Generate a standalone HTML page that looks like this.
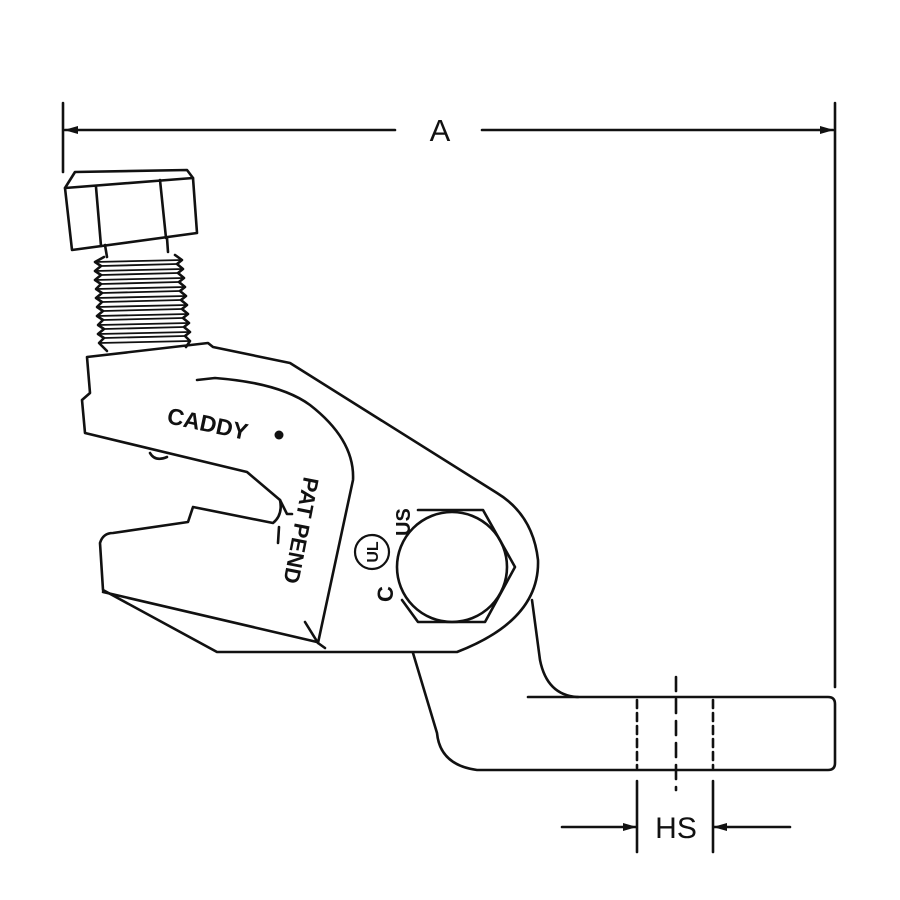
<!DOCTYPE html>
<html><head><style>html,body{margin:0;padding:0;background:#fff}svg{display:block}</style></head>
<body>
<svg width="900" height="900" viewBox="0 0 900 900" xmlns="http://www.w3.org/2000/svg">
<defs>
<marker id="ar" markerWidth="14" markerHeight="8" refX="13" refY="4" orient="auto" markerUnits="userSpaceOnUse">
<path d="M0,0 L14,4 L0,8 Z" fill="#111"/></marker>
</defs>
<g fill="none" stroke="#111" stroke-width="2.6" stroke-linejoin="round" stroke-linecap="round">
<line x1="63" y1="103" x2="63" y2="172"/>
<line x1="835" y1="103" x2="835" y2="687"/>
<line x1="395" y1="130" x2="65" y2="130" marker-end="url(#ar)"/>
<line x1="482" y1="130" x2="833" y2="130" marker-end="url(#ar)"/>
<path d="M65,188 L75,172 L187,170 L193,178 L197,233 L72,250 Z"/>
<line x1="65" y1="188" x2="193" y2="178"/>
<line x1="96" y1="187" x2="101" y2="246"/>
<line x1="160" y1="180" x2="166" y2="238"/>
<path d="M105,245 L107,257 M167,238 L168,252"/>
<path d="M104,257 L95,262 L101,266 L95,271 L101,275 L95,280 L101,284 L96,289 L102,293 L96,298 L102,302 L97,307 L103,311 L97,316 L103,320 L98,325 L104,329 L98,334 L104,338 L99,343 L107,351"/>
<path d="M175,255 L182,260 L177,264 L183,269 L178,273 L184,278 L179,282 L185,287 L180,291 L186,296 L181,300 L187,305 L182,309 L188,314 L183,318 L189,323 L184,327 L190,332 L185,336 L190,341 L186,347"/>
<path d="M95,262 L182,260 M101,266 L177,264 M95,271 L183,269 M101,275 L178,273 M95,280 L184,278 M101,284 L179,282 M96,289 L185,287 M102,293 L180,291 M96,298 L186,296 M102,302 L181,300 M97,307 L187,305 M103,311 L182,309 M97,316 L188,314 M103,320 L183,318 M98,325 L189,323 M104,329 L184,327 M98,334 L190,332 M104,338 L185,336 M99,343 L190,341" stroke-width="1.8"/>
<path d="M87,357 L208,343 L213,347 L290,363 L497,493 Q533,515 538,560 Q540,620 457,652 L217,652 L103,590 L100,543 Q103,533 113,533 L188,522 L193,507 L273,523 Q283,515 280,500 L247,472 L85,433 L82,400 L90,393 Z"/>
<path d="M103,592 L317,642"/>
<path d="M150,453 Q155,462 167,457"/>
<path d="M197,380 L215,378 Q280,383 310,405 Q355,440 353,480 L318,643"/>
<path d="M305,622 L318,643 L325,648"/>
<path d="M280,500 L287,514 L292,514 M279,527 L278,543"/>
<path d="M418,510 L483,510 L515,567 L485,622 L418,622 L402,600"/>
<circle cx="452" cy="567" r="55"/>
<circle cx="372" cy="552" r="17" stroke-width="2.2"/>
<path d="M532,600 L540,660 Q547,695 577,697 L828,697 Q835,697 835,704 L835,763 Q835,770 828,770 L477,770 Q440,765 437,733 L413,653"/>
<line x1="528" y1="697" x2="578" y2="697"/>
<line x1="637" y1="700" x2="637" y2="768" stroke-dasharray="8,5"/>
<line x1="713" y1="700" x2="713" y2="768" stroke-dasharray="8,5"/>
<line x1="676" y1="677" x2="676" y2="790" stroke-dasharray="14,8"/>
<line x1="637" y1="781" x2="637" y2="852"/>
<line x1="713" y1="781" x2="713" y2="852"/>
<line x1="562" y1="827" x2="636" y2="827" marker-end="url(#ar)"/>
<line x1="790" y1="827" x2="714" y2="827" marker-end="url(#ar)"/>
</g>
<circle cx="279" cy="435" r="4.5" fill="#111"/>
<g font-family="'Liberation Sans', sans-serif" fill="#111" font-weight="bold">
<text x="440" y="141" font-size="31" text-anchor="middle" font-weight="normal">A</text>
<text x="676" y="838" font-size="30" text-anchor="middle" font-weight="normal">HS</text>
<text x="0" y="0" font-size="23" transform="translate(166,423) rotate(12)">CADDY</text>
<text x="0" y="0" font-size="22" transform="translate(304,476) rotate(101)">PAT PEND</text>
<text x="0" y="0" font-size="16" text-anchor="middle" transform="translate(378,552) rotate(-90)">UL</text>
<text x="0" y="0" font-size="22" transform="translate(393,602) rotate(-90)">C</text>
<text x="0" y="0" font-size="20" transform="translate(410,536) rotate(-90)">US</text>
</g>
</svg>
</body></html>
